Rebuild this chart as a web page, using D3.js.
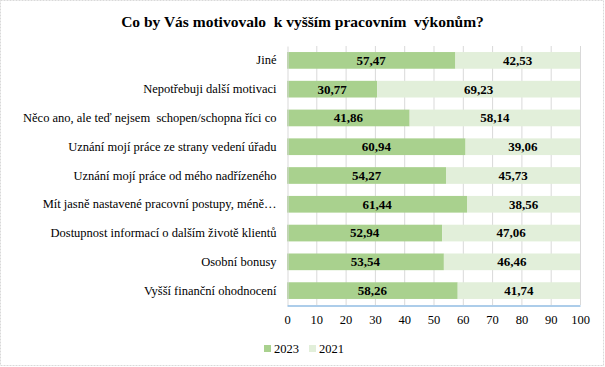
<!DOCTYPE html>
<html>
<head>
<meta charset="utf-8">
<script src="https://cdn.jsdelivr.net/npm/d3@7"></script>
</head>
<body style="margin:0; background:#fff">
<div id="chart"></div>
<script>
// chart data
var categories = [
  "Jiné",
  "Nepotřebuji další motivaci",
  "Něco ano, ale teď nejsem  schopen/schopna říci co",
  "Uznání mojí práce ze strany vedení úřadu",
  "Uznání mojí práce od mého nadřízeného",
  "Mít jasně nastavené pracovní postupy, méně…",
  "Dostupnost informací o dalším životě klientů",
  "Osobní bonusy",
  "Vyšší finanční ohodnocení"
];
var values2023 = [57.47, 30.77, 41.86, 60.94, 54.27, 61.44, 52.94, 53.54, 58.26];
var values2021 = [42.53, 69.23, 58.14, 39.06, 45.73, 38.56, 47.06, 46.46, 41.74];
var seriesNames = ["2023", "2021"];
var xTicks = [0, 10, 20, 30, 40, 50, 60, 70, 80, 90, 100];

// settings
var width = 605;
var height = 367;
var font = "'Liberation Serif'";
var color2023 = "#a9d18e";
var color2021 = "#e2efda";
var margin = {top: 46, right: 25, bottom: 62, left: 287};

var svg = d3.select("#chart").append("svg")
    .attr("width", width)
    .attr("height", height)
    .style("display", "block")
    .style("font-family", font);

// outer border
svg.append("rect")
    .attr("x", 0.5).attr("y", 0.5)
    .attr("width", width - 2).attr("height", height - 2)
    .attr("fill", "#fff")
    .attr("stroke", "#d9d9d9")
    .attr("stroke-dasharray", "2,1");

var x = d3.scaleLinear()
    .domain([0, 100])
    .range([margin.left, 580]);

var y = d3.scaleBand()
    .domain(categories)
    .range([margin.top, 305])
    .paddingInner(0.42)
    .paddingOuter(0.21);

// title
svg.append("text")
    .attr("x", width / 2)
    .attr("y", 27)
    .attr("text-anchor", "middle")
    .style("font-family", font)
    .style("font-size", "15.5px")
    .style("font-weight", "bold")
    .style("white-space", "pre")
    .text("Co by Vás motivovalo  k vyšším pracovním  výkonům?");

// gridlines
svg.append("g")
    .selectAll("line")
    .data(xTicks.slice(1))
    .enter().append("line")
    .attr("x1", function(d) { return x(d) + 0.5; })
    .attr("x2", function(d) { return x(d) + 0.5; })
    .attr("y1", margin.top)
    .attr("y2", 305)
    .attr("stroke", "#d9d9d9")
    .attr("stroke-width", 1);

// stacked bars
var rows = categories.map(function(c, i) {
    return {cat: c, a: values2023[i], b: values2021[i]};
});

var g = svg.append("g");
g.selectAll("rect.s2023")
    .data(rows)
    .enter().append("rect")
    .attr("class", "s2023")
    .attr("x", x(0))
    .attr("y", function(d) { return y(d.cat); })
    .attr("width", function(d) { return x(d.a) - x(0); })
    .attr("height", y.bandwidth())
    .attr("fill", color2023);

g.selectAll("rect.s2021")
    .data(rows)
    .enter().append("rect")
    .attr("class", "s2021")
    .attr("x", function(d) { return x(d.a); })
    .attr("y", function(d) { return y(d.cat); })
    .attr("width", function(d) { return x(d.a + d.b) - x(d.a); })
    .attr("height", y.bandwidth())
    .attr("fill", color2021);

// value labels
function fmt(v) { return v.toFixed(2).replace(".", ","); }

g.selectAll("text.l2023")
    .data(rows)
    .enter().append("text")
    .attr("x", function(d) { return x(d.a / 2); })
    .attr("y", function(d) { return y(d.cat) + y.bandwidth() / 2; })
    .attr("dy", "0.34em")
    .attr("text-anchor", "middle")
    .style("font-family", font)
    .style("font-size", "13px")
    .style("font-weight", "bold")
    .text(function(d) { return fmt(d.a); });

g.selectAll("text.l2021")
    .data(rows)
    .enter().append("text")
    .attr("x", function(d) { return x(d.a + d.b / 2); })
    .attr("y", function(d) { return y(d.cat) + y.bandwidth() / 2; })
    .attr("dy", "0.34em")
    .attr("text-anchor", "middle")
    .style("font-family", font)
    .style("font-size", "13px")
    .style("font-weight", "bold")
    .text(function(d) { return fmt(d.b); });

// left axis
var yAxis = svg.append("g")
    .attr("transform", "translate(" + (x(0) + 0.5) + ",0)")
    .call(d3.axisLeft(y).tickSize(0).tickPadding(11));
yAxis.select(".domain").attr("stroke", "#d9d9d9");
yAxis.selectAll("text")
    .style("font-family", font)
    .style("font-size", "12.5px")
    .style("white-space", "pre")
    .attr("fill", "#000");

// bottom axis
var xAxis = svg.append("g")
    .attr("transform", "translate(0,305.5)")
    .call(d3.axisBottom(x).tickValues(xTicks).tickSize(0).tickPadding(10));
xAxis.select(".domain").attr("stroke", "#5b9bd5");
xAxis.selectAll("text")
    .style("font-family", font)
    .style("font-size", "12.5px")
    .attr("fill", "#000");

// legend
var legend = svg.append("g").attr("transform", "translate(264,342)");
var legendItems = legend.selectAll("g")
    .data(seriesNames)
    .enter().append("g")
    .attr("transform", function(d, i) { return "translate(" + (i * 45) + ",0)"; });
legendItems.append("rect")
    .attr("width", 7).attr("height", 7)
    .attr("y", 3)
    .attr("fill", function(d, i) { return i == 0 ? color2023 : color2021; });
legendItems.append("text")
    .attr("x", 10)
    .attr("y", 11)
    .style("font-family", font)
    .style("font-size", "12.5px")
    .text(function(d) { return d; });
</script>
</body>
</html>
